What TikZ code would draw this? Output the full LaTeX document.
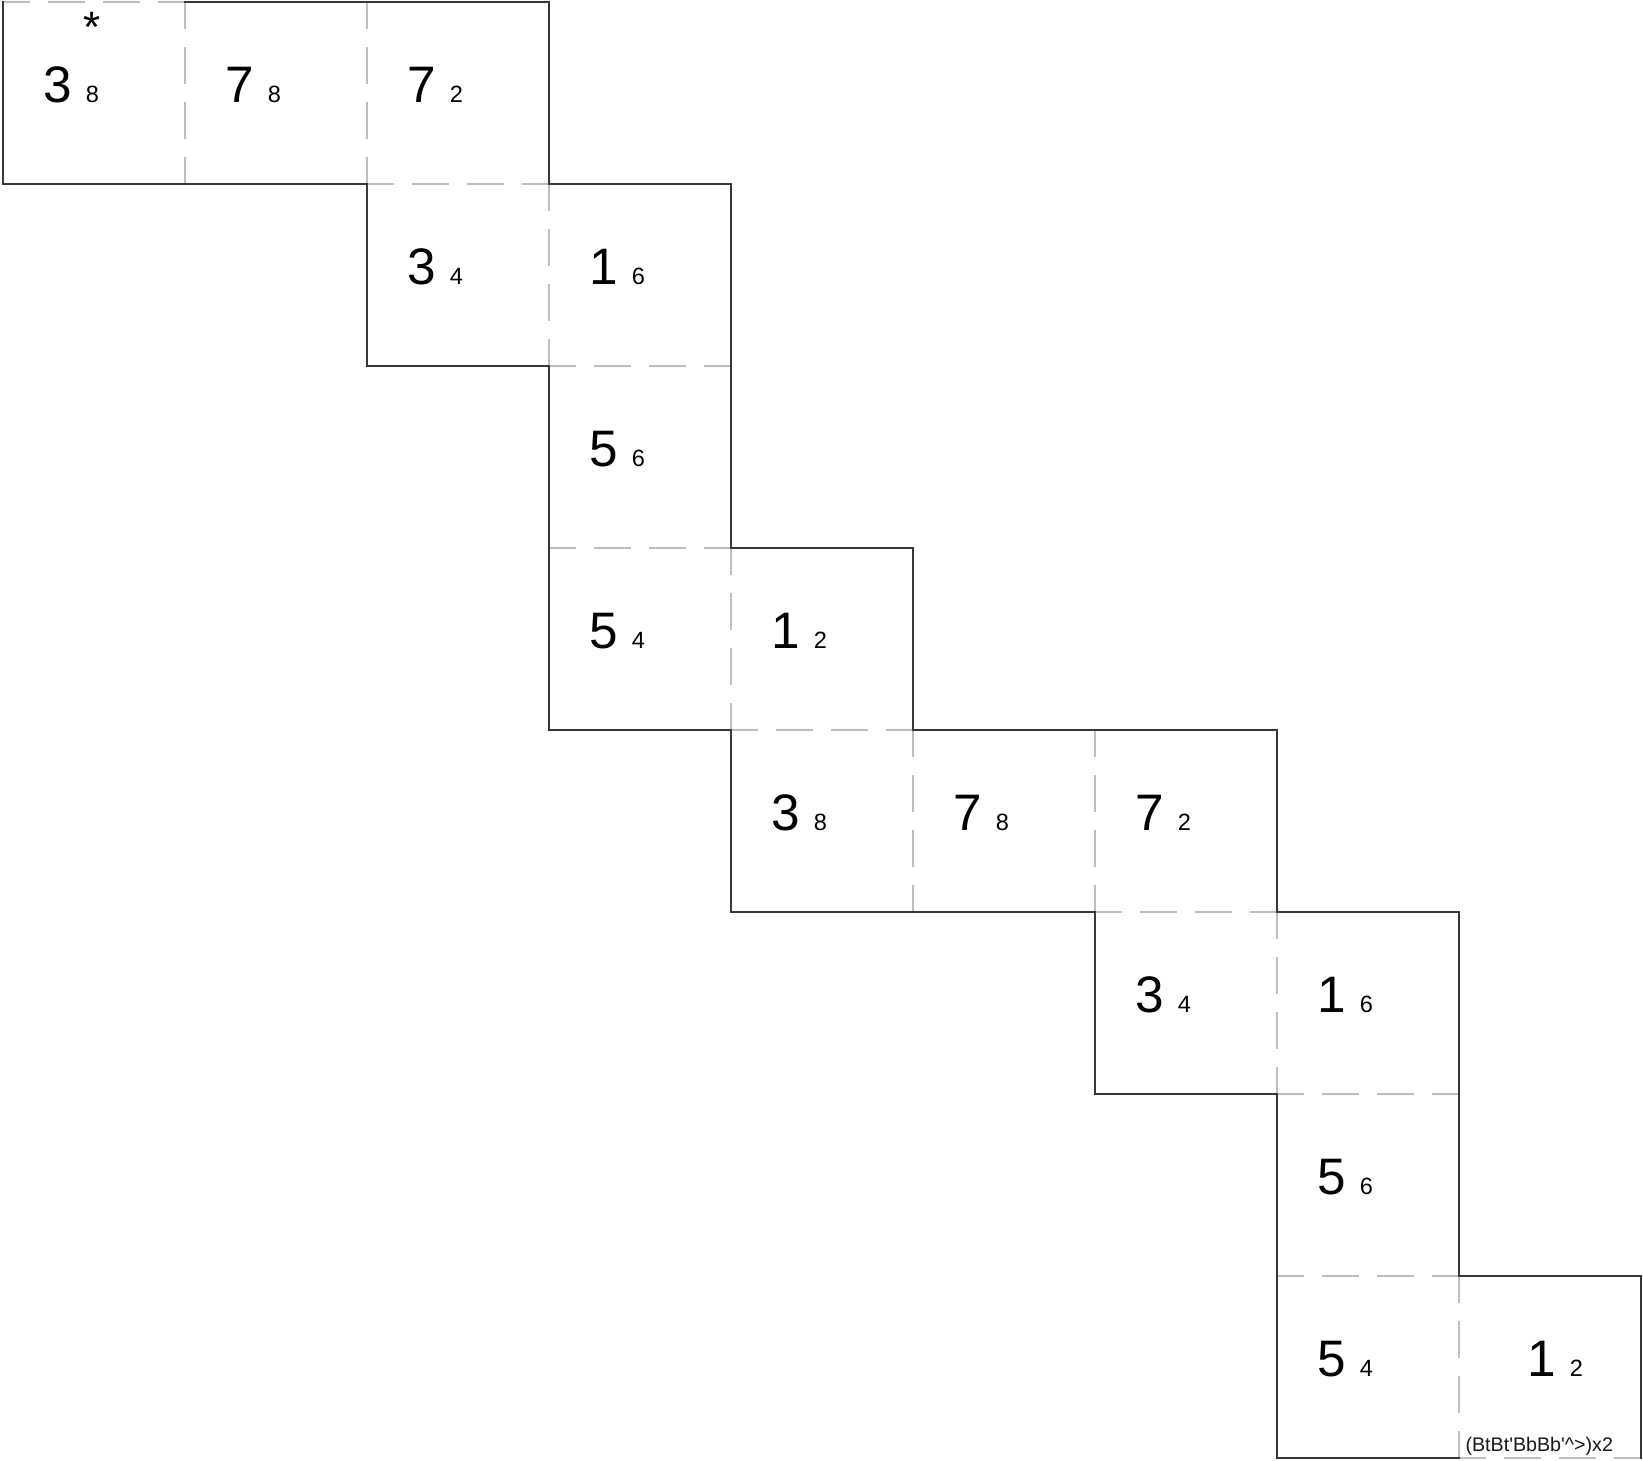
\documentclass[tikz,border=0pt]{standalone}
\usepackage{fontspec}
\setmainfont{Liberation Sans}[Ligatures=TeXOff]
\newcommand\cellnum[2]{{\fontsize{14.6}{17}\selectfont #1\ }{\fontsize{6.7}{8}\selectfont #2}}
\tikzset{
  solidedge/.style={draw=black!78, line width=0.4pt, line cap=rect},
  dashedge/.style={draw=black!26, line width=0.4pt, dash pattern=on 0.37cm off 0.18cm, dash phase=0.10cm},
  numtext/.style={anchor=base west, inner sep=0pt, outer sep=0pt, text=black},
  startext/.style={anchor=base, inner sep=0pt, outer sep=0pt, font=\fontsize{12.5}{14}\selectfont},
  labtext/.style={anchor=base west, inner sep=0pt, outer sep=0pt, font=\fontsize{5.6}{7}\selectfont, text=black!90},
}
\begin{document}
\begin{tikzpicture}
  \fill[white] (0,0) rectangle (16.43,-14.60);
  \useasboundingbox (0,0) rectangle (16.43,-14.60);
  % dashed internal / open edges
  \foreach \r/\c in {0/0, 1/2, 2/3, 3/3, 4/4, 5/6, 6/7, 7/7, 8/8}
    \draw[dashedge] ({0.03+1.82*\c},{-0.02-1.82*\r}) -- ++(1.82,0);
  \foreach \r/\c in {0/1, 0/2, 1/3, 3/4, 4/5, 4/6, 5/7, 7/8}
    \draw[dashedge] ({0.03+1.82*\c},{-0.02-1.82*\r}) -- ++(0,-1.82);
  % solid outer edges
  \foreach \r/\c in {0/1, 0/2, 1/0, 1/1, 1/3, 2/2, 3/4, 4/3, 4/5, 4/6, 5/4, 5/5, 5/7, 6/6, 7/8, 8/7}
    \draw[solidedge] ({0.03+1.82*\c},{-0.02-1.82*\r}) -- ++(1.82,0);
  \foreach \r/\c in {0/0, 0/3, 1/2, 1/4, 2/3, 2/4, 3/3, 3/5, 4/4, 4/7, 5/6, 5/8, 6/7, 6/8, 7/7, 7/9}
    \draw[solidedge] ({0.03+1.82*\c},{-0.02-1.82*\r}) -- ++(0,-1.82);
  % cell numbers
  \foreach \r/\c/\a/\b in {0/0/3/8, 0/1/7/8, 0/2/7/2, 1/2/3/4, 1/3/1/6, 2/3/5/6, 3/3/5/4, 3/4/1/2,
                           4/4/3/8, 4/5/7/8, 4/6/7/2, 5/6/3/4, 5/7/1/6, 6/7/5/6, 7/7/5/4}
    \node[numtext] (t\r\c) at ({0.03+1.82*\c+0.40},{-0.02-1.82*\r-1.00}) {\cellnum{\a}{\b}};
  \node[numtext] (t78) at ({0.03+1.82*8+0.68},{-0.02-1.82*7-1.00}) {\cellnum{1}{2}};
  \node[startext] (star) at (0.925,-0.42) {*};
  \node[labtext] (lab) at (14.655,-14.51) {(BtBt'BbBb'\textasciicircum>)x2};
\end{tikzpicture}
\end{document}
